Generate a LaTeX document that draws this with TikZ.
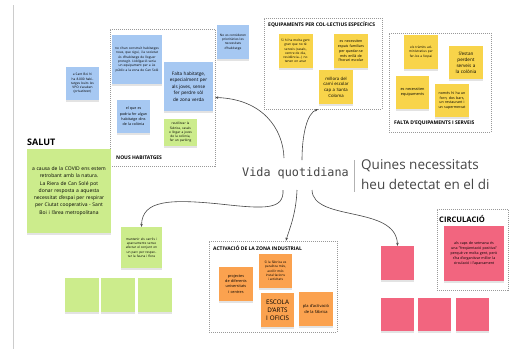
\documentclass[tikz,border=0pt]{standalone}
\usepackage{fontspec}
\setmainfont{Open Sans}
\setmonofont{DejaVu Sans Mono}
\usetikzlibrary{arrows.meta,shadows}
\definecolor{noteblue}{RGB}{166,200,242}
\definecolor{notegreen}{RGB}{204,236,140}
\definecolor{noteyellow}{RGB}{248,212,74}
\definecolor{noteorange}{RGB}{251,162,79}
\definecolor{notepink}{RGB}{242,101,127}
\definecolor{inkgray}{RGB}{70,70,70}
\tikzset{
  note/.style={minimum width=33pt,minimum height=33pt,inner sep=1.5pt,text width=29pt,align=center,
    font=\fontsize{3.2}{4.3}\selectfont,drop shadow={shadow xshift=0pt,shadow yshift=-1.6pt,opacity=0.22}},
  bluenote/.style={note,fill=noteblue},
  greennote/.style={note,fill=notegreen},
  yellownote/.style={note,fill=noteyellow},
  orangenote/.style={note,fill=noteorange},
  pinknote/.style={note,fill=notepink},
  group/.style={draw=gray!80,line width=0.6pt,dash pattern=on 1pt off 1pt,inner sep=0pt},
  grouplabel/.style={anchor=west,inner sep=0pt,font=\bfseries\fontsize{5}{6}\selectfont},
  conn/.style={draw=inkgray,line width=0.6pt,-{Stealth[length=3pt,width=2.6pt]}}
}
\begin{document}
\begin{tikzpicture}[x=1pt,y=-1pt]
	\useasboundingbox[fill=white] (0,0) rectangle (510,349);
	\draw[gray!40,line width=0.8pt] (13,5)--(13,349);
	% groups
	\node[group,minimum width=105pt,minimum height=137pt] (nous) at (162.5,97.5) {};
	\node[group,minimum width=118pt,minimum height=91pt] (equip) at (323,63.5) {};
	\node[group,minimum width=102pt,minimum height=99pt] (falta) at (440,82.5) {};
	\node[group,minimum width=128pt,minimum height=91pt] (activ) at (273,286.5) {};
	\node[group,minimum width=71pt,minimum height=81pt] (circ) at (472.5,249.5) {};
	\node[grouplabel] (nousl) at (116,158) {NOUS HABITATGES};
	\node[grouplabel] (equipl) at (268,25) {EQUIPAMENTS PER COL·LECTIUS ESPECÍFICS};
	\node[grouplabel] (faltal) at (394,123) {FALTA D'EQUIPAMENTS I SERVEIS};
	\node[grouplabel] (activl) at (213,248) {ACTIVACIÓ DE LA ZONA INDUSTRIAL};
	\node[grouplabel,font=\bfseries\fontsize{9}{10}\selectfont] (salut) at (27,142) {SALUT};
	\node[grouplabel,font=\bfseries\fontsize{7.6}{9}\selectfont] (circl) at (439,219) {CIRCULACIÓ};
	% habitatge
	\node[bluenote] (buits) at (82.5,83.5) {a Sant Boi hi ha 8.000 habitatges buits les VPO s'acaben (privatitzen)};
	\node[bluenote,minimum width=50pt,minimum height=49pt,text width=44pt] (nohab) at (137,59.5)
		{no s'han construït habitatges nous, que sigui, i la societat és d'habitatge de lloguer protegit. L'obligació seria un equipament per a ús públic a la zona de Can Solé};
	\node[bluenote,minimum width=49pt,minimum height=49pt,text width=44pt,font=\fontsize{4.6}{6.4}\selectfont] (joves) at (188.5,86.5)
		{Falta habitatge, especialment per als joves, sense fer perdre sòl de zona verda};
	\node[bluenote,minimum width=32pt,minimum height=34pt] (prior) at (233,42) {No es consideren prioritàries les necessitats d'habitatge};
	\node[bluenote,font=\fontsize{3.6}{5.4}\selectfont] (colonia) at (133.5,116.5) {el que es podria fer algun habitatge dins de la colònia};
	\node[greennote,minimum height=27pt] (reut) at (180.5,132.5) {reutilitzar la fàbrica, casals o llogar a joves de la colònia, fer un parking};
	% equipaments
	\node[yellownote,minimum width=34pt,minimum height=34pt] (gent) at (295.5,51) {Si hi ha molta gent gran que no té serveis (casals, centre de dia, residència...) no tenen on anar};
	\node[yellownote,minimum width=34pt,minimum height=34pt,font=\fontsize{3.6}{4.8}\selectfont] (espais) at (351,51) {es necessiten espais familiars per quedar-se més enllà de l'horari escolar};
	\node[yellownote,minimum width=34pt,minimum height=34pt,font=\fontsize{4.3}{5.6}\selectfont] (cami) at (336,87) {millora del camí escolar cap a Santa Coloma};
	\node[yellownote,minimum width=34pt,minimum height=34pt] (tramits) at (421,52) {els tràmits administratius per fer-los a l'espai};
	\node[yellownote,minimum width=34pt,minimum height=33pt,font=\fontsize{4.6}{6}\selectfont] (perdent) at (466,62.5) {S'estan perdent serveis a la colònia};
	\node[yellownote,minimum width=33pt,minimum height=33pt,font=\fontsize{3.8}{5}\selectfont] (equips) at (412.5,92.5) {es necessiten equipaments};
	\node[yellownote,minimum width=34pt,minimum height=33pt,font=\fontsize{3.6}{4.8}\selectfont] (nomes) at (452,100.5) {només hi ha un forn, dos bars, un restaurant i un supermercat};
	% salut
	\node[greennote,minimum width=84pt,minimum height=84pt,text width=74pt,font=\fontsize{5}{7.3}\selectfont] (covid) at (69,191)
		{a causa de la COVID ens estem retrobant amb la natura. La Riera de Can Solé pot donar resposta a aquesta necessitat d'espai per respirar per Ciutat cooperativa - Sant Boi i l'àrea metropolitana};
	\node[greennote,minimum width=41pt,minimum height=41pt,text width=36pt] (mant) at (141.5,247.5) {mantenir els carrils i aparcaments sense afectar el conjunt on un parc per respectar la fauna i flora};
	\foreach \n/\x in {g1/82,g2/117.5,g3/155}{
	\node[greennote,minimum width=34pt,minimum height=34pt] (\n) at (\x,295) {};
	}
	% activacio
	\node[orangenote,minimum width=34pt,minimum height=34pt,font=\fontsize{3.8}{5.2}\selectfont] (proj) at (236,284) {projectes de diferents universitats i centres};
	\node[orangenote,minimum width=33pt,minimum height=34pt] (fabr) at (275.5,271) {Si la fàbrica es paralitza més, acollir més instal·lacions i activitats};
	\node[orangenote,minimum width=33pt,minimum height=34pt,font=\fontsize{6.3}{8}\selectfont] (escola) at (277.5,310) {ESCOLA D'ARTS I OFICIS};
	\node[orangenote,minimum width=34pt,minimum height=34pt,font=\fontsize{4}{5.4}\selectfont] (pla) at (316,309) {pla d'activació de la fàbrica};
	% circulacio
	\node[pinknote,minimum width=33pt,minimum height=34pt] (p1) at (397.5,263) {};
	\foreach \n/\x in {p2/397.5,p3/434.5,p4/472}{
	\node[pinknote,minimum width=33pt,minimum height=33pt] (\n) at (\x,314.5) {};
	}
	\node[pinknote,minimum width=60pt,minimum height=55pt,text width=52pt,font=\fontsize{3.6}{5.1}\selectfont] (caps) at (474,253.5)
		{als caps de setmana és una "freqüentació positiva" perquè ve molta gent, però s'ha d'organitzar millor la circulació i l'aparcament};
	% centre
	\node[font=\ttfamily\fontsize{11.8}{12}\selectfont,text=inkgray,inner sep=0pt] (vida) at (295.5,173) {Vida quotidiana};
	\draw[gray!60,line width=0.6pt] (354,160)--(354,192);
	\node[anchor=west,align=left,inner sep=0pt,text=inkgray,font=\fontsize{13.5}{20}\selectfont] (quines) at (361,175)
		{Quines necessitats\\heu detectat en el di};
	\path (284,158) coordinate (v1)
	(302,160) coordinate (v2)
	(283,190) coordinate (v3)
	(297,190) coordinate (v4)
	(312,190) coordinate (v5);
	\draw[conn] (v1) .. controls (283,128) and (262,99) .. (nous.east);
	\draw[conn] (v2) .. controls (302,135) and (307,113) .. ([xshift=-5pt]equip.south);
	\draw[conn] (v3) .. controls (284,210) and (265,209) .. (220,204) .. controls (170,199) and (142,200) .. (mant.north);
	\draw[conn] (v4) .. controls (296,215) and (289,230) .. ([xshift=13pt]activ.north);
	\draw[conn] (v5) .. controls (313,222) and (396,205) .. (p1.north);
\end{tikzpicture}
\end{document}
